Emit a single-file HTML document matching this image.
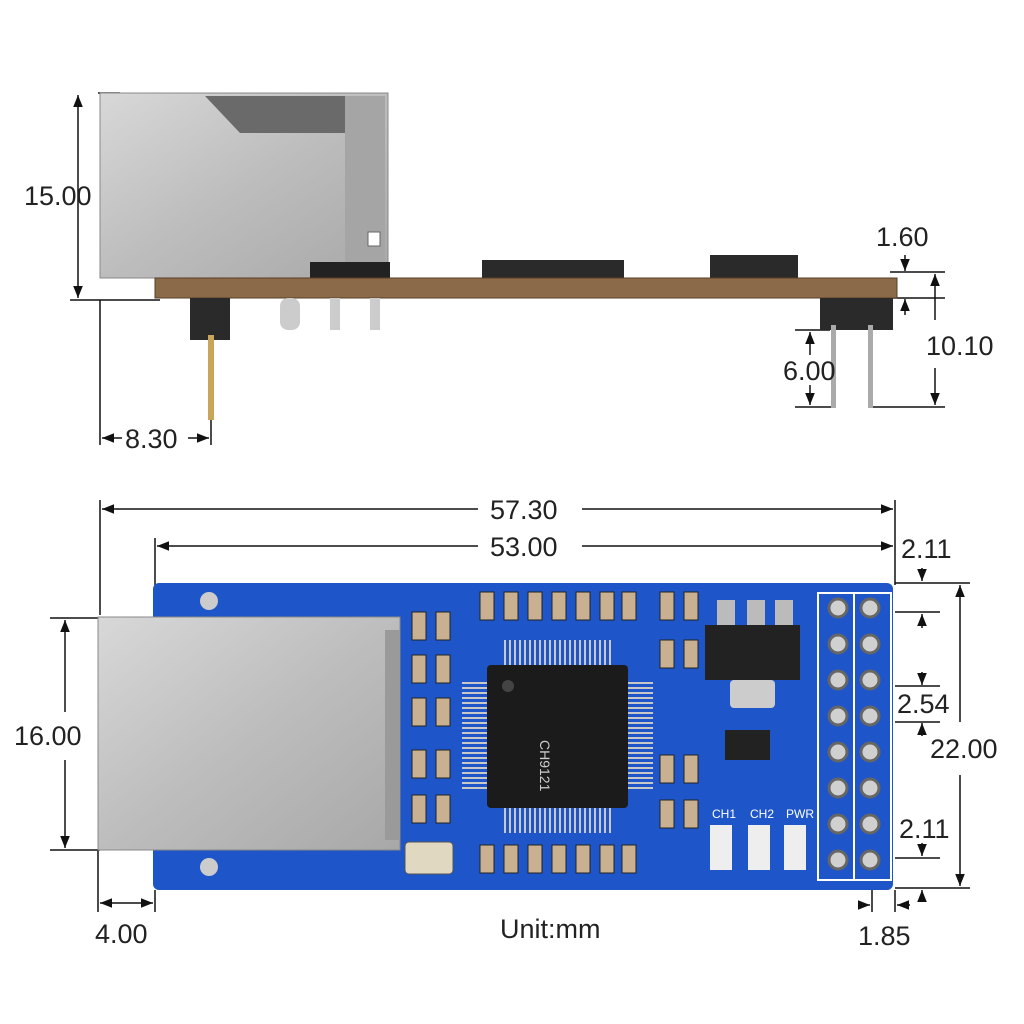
<!DOCTYPE html>
<html><head><meta charset="utf-8"><style>
html,body{margin:0;padding:0;background:#fff;}
svg{display:block}
text{font-family:"Liberation Sans",sans-serif;fill:#222;}
</style></head><body>
<svg width="1024" height="1024" viewBox="0 0 1024 1024" xmlns="http://www.w3.org/2000/svg">
<defs>
<linearGradient id="metal" x1="0" y1="0" x2="1" y2="1">
<stop offset="0" stop-color="#d8d8d8"/><stop offset="0.5" stop-color="#bdbdbd"/><stop offset="1" stop-color="#a8a8a8"/>
</linearGradient>
<marker id="ah" viewBox="0 0 10 10" refX="10" refY="5" markerWidth="8" markerHeight="8" orient="auto-start-reverse"><path d="M0,1 L10,5 L0,9 z" fill="#111"/></marker>
</defs>
<g stroke="#111" stroke-width="1.5" fill="none">
<!-- side view dims -->
<line x1="98" y1="93" x2="120" y2="93"/><line x1="70" y1="300" x2="160" y2="300"/>
<line x1="78" y1="95" x2="78" y2="298" marker-start="url(#ah)" marker-end="url(#ah)"/>
<line x1="100" y1="300" x2="100" y2="445"/><line x1="211" y1="420" x2="211" y2="445"/>
<line x1="102" y1="438" x2="122" y2="438" marker-start="url(#ah)"/><line x1="188" y1="438" x2="209" y2="438" marker-end="url(#ah)"/>
<line x1="890" y1="272" x2="945" y2="272"/><line x1="890" y1="298" x2="945" y2="298"/>
<line x1="905" y1="255" x2="905" y2="271" marker-end="url(#ah)"/><line x1="905" y1="315" x2="905" y2="299" marker-end="url(#ah)"/>
<line x1="935" y1="274" x2="935" y2="320" marker-start="url(#ah)"/><line x1="935" y1="368" x2="935" y2="405" marker-end="url(#ah)"/>
<line x1="870" y1="407" x2="945" y2="407"/>
<line x1="795" y1="330" x2="830" y2="330"/><line x1="795" y1="407" x2="835" y2="407"/>
<line x1="810" y1="332" x2="810" y2="355" marker-start="url(#ah)"/><line x1="810" y1="385" x2="810" y2="405" marker-end="url(#ah)"/>
<!-- bottom view dims -->
<line x1="100" y1="500" x2="100" y2="615"/><line x1="155" y1="538" x2="155" y2="585"/>
<line x1="895" y1="500" x2="895" y2="585"/>
<line x1="102" y1="509" x2="478" y2="509" marker-start="url(#ah)"/><line x1="582" y1="509" x2="893" y2="509" marker-end="url(#ah)"/>
<line x1="157" y1="546" x2="478" y2="546" marker-start="url(#ah)"/><line x1="582" y1="546" x2="893" y2="546" marker-end="url(#ah)"/>
<line x1="50" y1="618" x2="100" y2="618"/><line x1="50" y1="850" x2="100" y2="850"/>
<line x1="65" y1="620" x2="65" y2="712" marker-start="url(#ah)"/><line x1="65" y1="760" x2="65" y2="848" marker-end="url(#ah)"/>
<line x1="895" y1="583" x2="970" y2="583"/><line x1="895" y1="888" x2="970" y2="888"/>
<line x1="960" y1="585" x2="960" y2="722" marker-start="url(#ah)"/><line x1="960" y1="775" x2="960" y2="886" marker-end="url(#ah)"/>
<line x1="895" y1="612" x2="940" y2="612"/><line x1="895" y1="858" x2="940" y2="858"/>
<line x1="922" y1="568" x2="922" y2="581" marker-end="url(#ah)"/><line x1="922" y1="628" x2="922" y2="614" marker-end="url(#ah)"/>
<line x1="895" y1="686" x2="940" y2="686"/><line x1="895" y1="722" x2="940" y2="722"/>
<line x1="922" y1="672" x2="922" y2="685" marker-end="url(#ah)"/><line x1="922" y1="736" x2="922" y2="723" marker-end="url(#ah)"/>
<line x1="922" y1="843" x2="922" y2="856" marker-end="url(#ah)"/><line x1="922" y1="902" x2="922" y2="890" marker-end="url(#ah)"/>
<line x1="98" y1="850" x2="98" y2="912"/><line x1="155" y1="890" x2="155" y2="912"/>
<line x1="100" y1="903" x2="153" y2="903" marker-start="url(#ah)" marker-end="url(#ah)"/>
<line x1="872" y1="885" x2="872" y2="912"/><line x1="895" y1="890" x2="895" y2="912"/>
<line x1="858" y1="905" x2="870" y2="905" marker-end="url(#ah)"/><line x1="910" y1="905" x2="897" y2="905" marker-end="url(#ah)"/>
</g>

<!-- side view board -->
<rect x="100" y="93" width="288" height="185" fill="url(#metal)" stroke="#888"/>
<polygon points="205,96 385,96 355,133 240,133" fill="#6a6a6a"/>
<rect x="345" y="96" width="40" height="175" fill="#a5a5a5"/>
<rect x="368" y="232" width="12" height="14" fill="#fff" stroke="#666"/>
<rect x="310" y="262" width="80" height="16" fill="#222"/>
<rect x="482" y="260" width="142" height="18" fill="#2a2a2a"/>
<rect x="710" y="255" width="88" height="23" fill="#2a2a2a"/>
<rect x="155" y="278" width="742" height="20" fill="#8a6a48" stroke="#5a3f26"/>
<rect x="190" y="298" width="40" height="42" fill="#2a2a2a"/>
<rect x="208" y="335" width="6" height="85" fill="#c9a55a"/>
<rect x="820" y="298" width="73" height="32" fill="#2a2a2a"/>
<rect x="831" y="325" width="5" height="83" fill="#aaa"/><rect x="868" y="325" width="5" height="83" fill="#aaa"/>
<rect x="280" y="298" width="20" height="32" rx="8" fill="#ccc"/>
<rect x="330" y="298" width="10" height="32" fill="#ccc"/><rect x="370" y="298" width="10" height="32" fill="#ccc"/>

<!-- top view board -->
<rect x="153" y="583" width="740" height="307" rx="6" fill="#1e55c8"/>
<rect x="98" y="617" width="302" height="233" fill="url(#metal)" stroke="#888"/>
<rect x="385" y="630" width="15" height="210" fill="#9a9a9a"/>
<circle cx="209" cy="601" r="9" fill="#ccc"/><circle cx="209" cy="867" r="9" fill="#ccc"/>
<!-- chip -->
<g fill="#ccc">
<rect x="500" y="640" width="118" height="25" fill="none" stroke="#ccc" stroke-width="0" />
</g>
<g stroke="#c8c8c8" stroke-width="2">
<path d="M505 640v25M510 640v25M515 640v25M520 640v25M525 640v25M530 640v25M535 640v25M540 640v25M545 640v25M550 640v25M555 640v25M560 640v25M565 640v25M570 640v25M575 640v25M580 640v25M585 640v25M590 640v25M595 640v25M600 640v25M605 640v25M610 640v25"/>
<path d="M505 808v25M510 808v25M515 808v25M520 808v25M525 808v25M530 808v25M535 808v25M540 808v25M545 808v25M550 808v25M555 808v25M560 808v25M565 808v25M570 808v25M575 808v25M580 808v25M585 808v25M590 808v25M595 808v25M600 808v25M605 808v25M610 808v25"/>
<path d="M462 683h25M462 688h25M462 693h25M462 698h25M462 703h25M462 708h25M462 713h25M462 718h25M462 723h25M462 728h25M462 733h25M462 738h25M462 743h25M462 748h25M462 753h25M462 758h25M462 763h25M462 768h25M462 773h25M462 778h25M462 783h25M462 788h25"/>
<path d="M628 683h25M628 688h25M628 693h25M628 698h25M628 703h25M628 708h25M628 713h25M628 718h25M628 723h25M628 728h25M628 733h25M628 738h25M628 743h25M628 748h25M628 753h25M628 758h25M628 763h25M628 768h25M628 773h25M628 778h25M628 783h25M628 788h25"/>
</g>
<rect x="487" y="665" width="141" height="143" rx="4" fill="#1b1b1b"/>
<circle cx="508" cy="686" r="6" fill="#444"/>
<text x="570" y="770" transform="rotate(90 570 740)" font-size="14" style="fill:#ccc">CH9121</text>
<!-- small parts -->
<g fill="#c8b090" stroke="#222">
<rect x="480" y="592" width="14" height="28"/><rect x="504" y="592" width="14" height="28"/><rect x="528" y="592" width="14" height="28"/><rect x="552" y="592" width="14" height="28"/><rect x="576" y="592" width="14" height="28"/><rect x="600" y="592" width="14" height="28"/><rect x="622" y="592" width="14" height="28"/>
<rect x="480" y="845" width="14" height="28"/><rect x="504" y="845" width="14" height="28"/><rect x="528" y="845" width="14" height="28"/><rect x="552" y="845" width="14" height="28"/><rect x="576" y="845" width="14" height="28"/><rect x="600" y="845" width="14" height="28"/><rect x="622" y="845" width="14" height="28"/>
<rect x="412" y="612" width="14" height="28"/><rect x="436" y="612" width="14" height="28"/><rect x="412" y="655" width="14" height="28"/><rect x="436" y="655" width="14" height="28"/><rect x="412" y="698" width="14" height="28"/><rect x="436" y="698" width="14" height="28"/>
<rect x="412" y="750" width="14" height="28"/><rect x="436" y="750" width="14" height="28"/><rect x="412" y="795" width="14" height="28"/><rect x="436" y="795" width="14" height="28"/>
<rect x="660" y="592" width="14" height="28"/><rect x="684" y="592" width="14" height="28"/><rect x="660" y="640" width="14" height="28"/><rect x="684" y="640" width="14" height="28"/>
<rect x="660" y="755" width="14" height="28"/><rect x="684" y="755" width="14" height="28"/><rect x="660" y="800" width="14" height="28"/><rect x="684" y="800" width="14" height="28"/>
</g>
<rect x="405" y="842" width="48" height="32" rx="4" fill="#e0d8c0" stroke="#555"/>
<rect x="705" y="625" width="95" height="55" fill="#222"/>
<rect x="717" y="600" width="18" height="25" fill="#bbb"/><rect x="747" y="600" width="18" height="25" fill="#bbb"/><rect x="775" y="600" width="18" height="25" fill="#bbb"/>
<rect x="730" y="680" width="45" height="28" rx="4" fill="#ccc"/>
<rect x="725" y="730" width="45" height="30" fill="#222"/>
<rect x="710" y="825" width="22" height="45" fill="#eee"/><rect x="748" y="825" width="22" height="45" fill="#eee"/><rect x="784" y="825" width="22" height="45" fill="#eee"/>
<text x="712" y="818" font-size="12" style="fill:#fff">CH1</text><text x="750" y="818" font-size="12" style="fill:#fff">CH2</text><text x="786" y="818" font-size="12" style="fill:#fff">PWR</text>
<!-- header -->
<rect x="818" y="593" width="73" height="287" fill="none" stroke="#fff" stroke-width="2"/>
<line x1="854" y1="593" x2="854" y2="880" stroke="#fff" stroke-width="2"/>
<g fill="#d0d0d0" stroke="#666" stroke-width="3">
<circle cx="838" cy="608" r="9"/><circle cx="870" cy="608" r="9"/>
<circle cx="838" cy="644" r="9"/><circle cx="870" cy="644" r="9"/>
<circle cx="838" cy="680" r="9"/><circle cx="870" cy="680" r="9"/>
<circle cx="838" cy="716" r="9"/><circle cx="870" cy="716" r="9"/>
<circle cx="838" cy="752" r="9"/><circle cx="870" cy="752" r="9"/>
<circle cx="838" cy="788" r="9"/><circle cx="870" cy="788" r="9"/>
<circle cx="838" cy="824" r="9"/><circle cx="870" cy="824" r="9"/>
<circle cx="838" cy="860" r="9"/><circle cx="870" cy="860" r="9"/>
</g>

<!-- labels -->
<g font-size="27">
<text x="24" y="205">15.00</text>
<text x="876" y="246">1.60</text>
<text x="926" y="355">10.10</text>
<text x="783" y="380">6.00</text>
<text x="125" y="448">8.30</text>
<text x="490" y="519">57.30</text>
<text x="490" y="556">53.00</text>
<text x="901" y="558">2.11</text>
<text x="897" y="713">2.54</text>
<text x="930" y="758">22.00</text>
<text x="899" y="838">2.11</text>
<text x="14" y="745">16.00</text>
<text x="95" y="943">4.00</text>
<text x="500" y="938">Unit:mm</text>
<text x="858" y="945">1.85</text>
</g>
</svg>
</body></html>
